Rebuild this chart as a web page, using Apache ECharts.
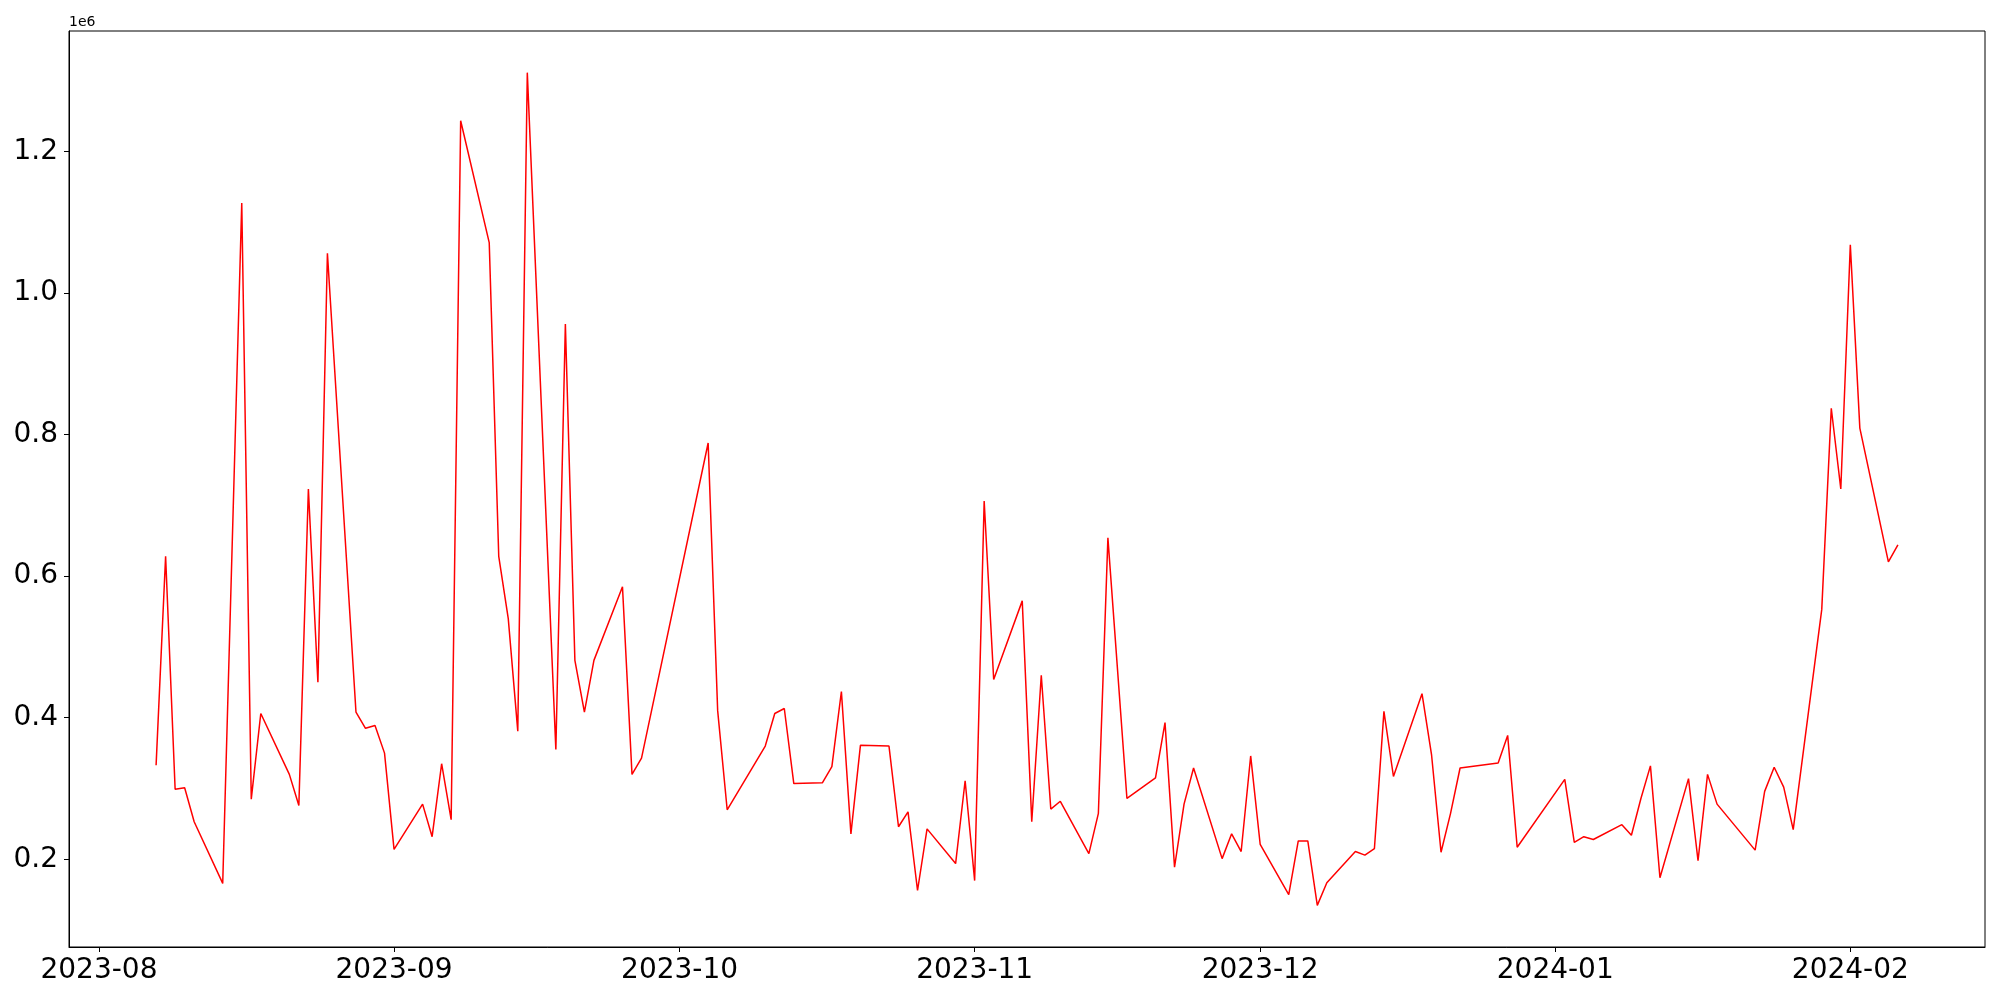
<!DOCTYPE html>
<html>
<head>
<meta charset="utf-8">
<script src="https://cdn.jsdelivr.net/npm/echarts@6/dist/echarts.min.js"></script>
<style>html,body{margin:0;padding:0;background:#fff}#chart{width:2000px;height:1000px}</style>
</head>
<body>
<div id="chart"></div>
<script>
const dates = ['2023-08-07','2023-08-08','2023-08-09','2023-08-10','2023-08-11','2023-08-14','2023-08-16','2023-08-17','2023-08-18','2023-08-21','2023-08-22','2023-08-23','2023-08-24','2023-08-25','2023-08-28','2023-08-29','2023-08-30','2023-08-31','2023-09-01','2023-09-04','2023-09-05','2023-09-06','2023-09-07','2023-09-08','2023-09-11','2023-09-12','2023-09-13','2023-09-14','2023-09-15','2023-09-18','2023-09-19','2023-09-20','2023-09-21','2023-09-22','2023-09-25','2023-09-26','2023-09-27','2023-10-04','2023-10-05','2023-10-06','2023-10-10','2023-10-11','2023-10-12','2023-10-13','2023-10-16','2023-10-17','2023-10-18','2023-10-19','2023-10-20','2023-10-23','2023-10-24','2023-10-25','2023-10-26','2023-10-27','2023-10-30','2023-10-31','2023-11-01','2023-11-02','2023-11-03','2023-11-06','2023-11-07','2023-11-08','2023-11-09','2023-11-10','2023-11-13','2023-11-14','2023-11-15','2023-11-17','2023-11-20','2023-11-21','2023-11-22','2023-11-23','2023-11-24','2023-11-27','2023-11-28','2023-11-29','2023-11-30','2023-12-01','2023-12-04','2023-12-05','2023-12-06','2023-12-07','2023-12-08','2023-12-11','2023-12-12','2023-12-13','2023-12-14','2023-12-15','2023-12-18','2023-12-19','2023-12-20','2023-12-21','2023-12-22','2023-12-26','2023-12-27','2023-12-28','2024-01-02','2024-01-03','2024-01-04','2024-01-05','2024-01-08','2024-01-09','2024-01-10','2024-01-11','2024-01-12','2024-01-15','2024-01-16','2024-01-17','2024-01-18','2024-01-22','2024-01-23','2024-01-24','2024-01-25','2024-01-26','2024-01-29','2024-01-30','2024-01-31','2024-02-01','2024-02-02','2024-02-05','2024-02-06'];

const values = [333000,628000,299000,301000,253000,166000,1127000,285000,406000,320000,276000,723000,450000,1056000,408000,385000,389000,350000,214000,278000,232000,335000,256000,1243000,1071000,628000,540000,381000,1311000,355000,956000,481000,408000,481000,585000,320000,343000,788000,410000,270000,360000,406000,413000,307000,308000,331000,437000,236000,361000,360000,246000,267000,156000,243000,194000,311000,170000,706000,454000,565000,253000,460000,271000,282000,208000,265000,654000,286000,315000,393000,189000,278000,329000,201000,236000,211000,346000,221000,150000,226000,226000,135000,167000,211000,206000,215000,409000,317000,434000,348000,210000,265000,329000,336000,375000,217000,313000,224000,232000,228000,249000,234000,286000,332000,174000,314000,198000,320000,278000,213000,296000,330000,302000,242000,553000,837000,723000,1068000,809000,620000,644000];

const xTickLabels = ['2023-08','2023-09','2023-10','2023-11','2023-12','2024-01','2024-02'];
const yTickValues = [200000,400000,600000,800000,1000000,1200000];

function ts(s){const p=s.split('-').map(Number);return Date.UTC(p[0],p[1]-1,p[2]||1);}
const xs = dates.map(ts);
const x0 = Math.min(...xs), x1 = Math.max(...xs);
const xm = (x1-x0)*0.05;
const y0 = Math.min(...values), y1 = Math.max(...values);
const ym = (y1-y0)*0.05;
const monthTs = xTickLabels.map(ts);
const fmtMonth = v => {const d=new Date(v);return d.getUTCFullYear()+'-'+String(d.getUTCMonth()+1).padStart(2,'0');};

const chart = echarts.init(document.getElementById('chart'));
chart.setOption({
  animation:false,
  backgroundColor:'#fff',
  grid:{left:69, right:15, top:31, bottom:53, show:true, borderColor:'#000', borderWidth:1, backgroundColor:'transparent'},
  xAxis:{
    type:'value', min:x0-xm, max:x1+xm, scale:true,
    axisLine:{show:true, onZero:false, lineStyle:{color:'#000', width:1}},
    splitLine:{show:false},
    axisTick:{show:true, customValues:monthTs, length:5, lineStyle:{color:'#000', width:1}},
    axisLabel:{customValues:monthTs, formatter:fmtMonth, fontSize:28, color:'#000', fontFamily:'DejaVu Sans', margin:10, hideOverlap:false, showMinLabel:true, showMaxLabel:true}
  },
  yAxis:{
    type:'value', min:y0-ym, max:y1+ym, scale:true,
    axisLine:{show:true, onZero:false, lineStyle:{color:'#000', width:1}},
    splitLine:{show:false},
    axisTick:{show:true, customValues:yTickValues, length:5, lineStyle:{color:'#000', width:1}},
    axisLabel:{customValues:yTickValues, formatter:v=>(v/1e6).toFixed(1), fontSize:28, color:'#000', fontFamily:'DejaVu Sans', margin:11}
  },
  graphic:[{type:'text', left:69, top:15, style:{text:'1e6', fontSize:14, fontFamily:'DejaVu Sans', fill:'#000'}}],
  series:[{type:'line', data:xs.map((x,i)=>[x, values[i]]), showSymbol:false, lineStyle:{color:'#ff0000', width:1.5}}]
});
</script>
</body>
</html>
